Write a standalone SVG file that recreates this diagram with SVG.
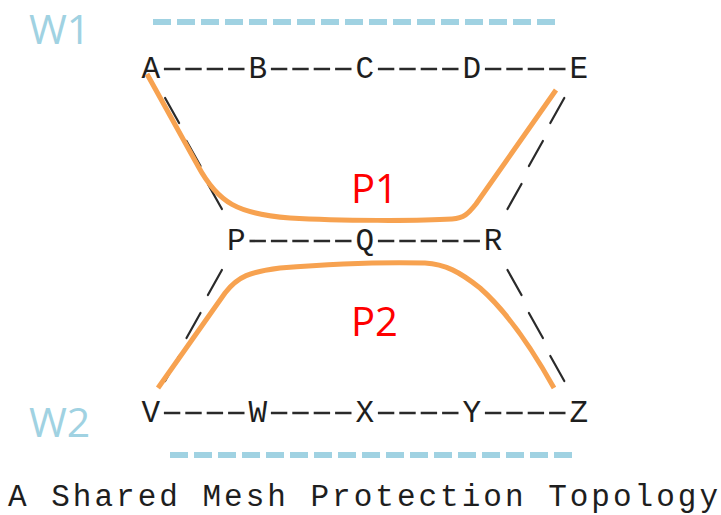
<svg xmlns="http://www.w3.org/2000/svg" width="721" height="515" viewBox="0 0 721 515">
<style>
.n{font-family:"Liberation Mono","DejaVu Sans Mono",monospace;font-size:31px;fill:#1e1e1e;text-anchor:middle}
.d{stroke:#2a2a2a;stroke-width:2.6;stroke-dasharray:16.4 5;fill:none}
.s{stroke:#2a2a2a;stroke-width:2.2;fill:none;stroke-linecap:round}
.w{font-family:"Open Sans","Noto Sans",sans-serif;font-size:41px;fill:#A0D2E2}
.wl{stroke:#A0D2E2;stroke-width:6;stroke-dasharray:18 6;fill:none}
.p{font-family:"Open Sans","Noto Sans",sans-serif;font-size:40px;fill:#FF0000}
.o{stroke:#F7A250;stroke-width:5;fill:none;stroke-linecap:butt}
.c{font-family:"Liberation Mono","DejaVu Sans Mono",monospace;font-size:31px;fill:#1e1e1e}
</style>
<rect width="721" height="515" fill="#ffffff"/>
<g id="connectors">
<line class="d" x1="163.9" y1="69" x2="244.5" y2="69"/>
<line class="d" x1="270.9" y1="69" x2="351.5" y2="69"/>
<line class="d" x1="377.9" y1="69" x2="458.5" y2="69"/>
<line class="d" x1="484.9" y1="69" x2="565.5" y2="69"/>
<line class="d" x1="249.5" y1="241" x2="351.5" y2="241"/>
<line class="d" x1="377.9" y1="241" x2="479.9" y2="241"/>
<line class="d" x1="163.9" y1="413" x2="244.5" y2="413"/>
<line class="d" x1="270.9" y1="413" x2="351.5" y2="413"/>
<line class="d" x1="377.9" y1="413" x2="458.5" y2="413"/>
<line class="d" x1="484.9" y1="413" x2="565.5" y2="413"/>
<line class="s" x1="165.1" y1="98" x2="179.1" y2="123"/>
<line class="s" x1="186.5" y1="141" x2="200.5" y2="166"/>
<line class="s" x1="207.9" y1="184" x2="221.9" y2="209"/>
<line class="s" x1="564.3" y1="98" x2="550.3" y2="123"/>
<line class="s" x1="542.9" y1="141" x2="528.9" y2="166"/>
<line class="s" x1="521.5" y1="184" x2="507.5" y2="209"/>
<line class="s" x1="221.9" y1="270" x2="207.9" y2="295"/>
<line class="s" x1="200.5" y1="313" x2="186.5" y2="338"/>
<line class="s" x1="179.1" y1="356" x2="165.1" y2="381"/>
<line class="s" x1="507.5" y1="270" x2="521.5" y2="295"/>
<line class="s" x1="528.9" y1="313" x2="542.9" y2="338"/>
<line class="s" x1="550.3" y1="356" x2="564.3" y2="381"/>
</g>
<g id="node-A"><text class="n" x="150.7" y="78">A</text></g>
<g id="node-B"><text class="n" x="257.7" y="78">B</text></g>
<g id="node-C"><text class="n" x="364.7" y="78">C</text></g>
<g id="node-D"><text class="n" x="471.7" y="78">D</text></g>
<g id="node-E"><text class="n" x="578.7" y="78">E</text></g>
<g id="node-P"><text class="n" x="236.3" y="250">P</text></g>
<g id="node-Q"><text class="n" x="364.7" y="250">Q</text></g>
<g id="node-R"><text class="n" x="493.1" y="250">R</text></g>
<g id="node-V"><text class="n" x="150.7" y="422">V</text></g>
<g id="node-W"><text class="n" x="257.7" y="422">W</text></g>
<g id="node-X"><text class="n" x="364.7" y="422">X</text></g>
<g id="node-Y"><text class="n" x="471.7" y="422">Y</text></g>
<g id="node-Z"><text class="n" x="578.7" y="422">Z</text></g>
<g id="paths">
<path id="path-P1" class="o" d="M147,74 L198,166 C218,203 238,214 290,218 C340,221 420,221 452,219 C464,218 468,214 476,204 L556,90"/>
<path id="path-P2" class="o" d="M158,388 L225,293 C238,276 250,272 280,268 C330,264 390,262 425,263 C445,264 460,272 480,288 C505,310 530,345 554,388"/>
<text class="p" x="351" y="203">P1</text>
<text class="p" x="351" y="336">P2</text>
</g>
<g id="W1">
<text class="w" x="29" y="44">W1</text>
<line class="wl" x1="153" y1="22" x2="557" y2="22"/>
</g>
<g id="W2">
<text class="w" x="29" y="437">W2</text>
<line class="wl" x1="170" y1="455" x2="574" y2="455"/>
</g>
<text class="c" x="8" y="506" textLength="710" lengthAdjust="spacing">A Shared Mesh Protection Topology</text>
</svg>
